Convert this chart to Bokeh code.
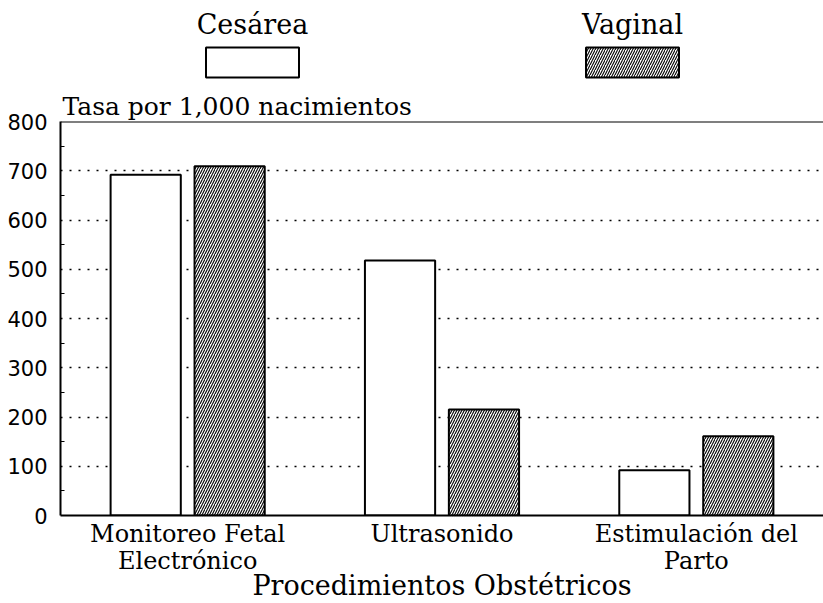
import numpy as np
from bokeh.plotting import figure
from bokeh.models import Range1d, FixedTicker, Title, Span
from bokeh.layouts import column
from bokeh.core.properties import value
from bokeh.embed import file_html
from bokeh.resources import INLINE

# ---------------- data ----------------
categories = ["Monitoreo Fetal\nElectrónico", "Ultrasonido", "Estimulación del\nParto"]
cesarea = [692, 518, 92]
vaginal = [709, 215, 161]
series_names = ["Cesárea", "Vaginal"]
y_tick_values = [0, 100, 200, 300, 400, 500, 600, 700, 800]
y_title = "Tasa por 1,000 nacimientos"
x_title = "Procedimientos Obstétricos"

# ---------------- style ----------------
W = 823
LEFT = 60
LEG_H = 89
MAIN_H = 603 - LEG_H
SERIF = "DejaVu Serif"
SANS = "DejaVu Sans"
BAR_W = 0.276
OFFSET = 0.165
HATCH = dict(hatch_pattern="/", hatch_color="black", hatch_scale=5, hatch_weight=1.1)

# ---------------- legend figure (frame aligned with the main frame: x in page pixels) ----------------
leg = figure(width=W, height=LEG_H, x_range=Range1d(LEFT, W), y_range=Range1d(LEG_H, 0),
             x_axis_location=None, y_axis_location=None,
             output_backend="svg", toolbar_location=None,
             min_border=0, min_border_left=LEFT, min_border_right=0, min_border_top=0, min_border_bottom=0)
leg.grid.visible = False
leg.outline_line_color = None
leg_x = [252, 632]
leg.text(x=leg_x, y=[24, 24], text=series_names, text_font=value(SERIF), text_font_size="27px",
         text_align="center", text_baseline="alphabetic", text_color="black")
leg.rect(x=[leg_x[0]], y=[62], width=93, height=30, fill_color="white", line_color="black", line_width=2)
leg.rect(x=[leg_x[1]], y=[62], width=93, height=30, fill_color="white", line_color="black", line_width=2, **HATCH)

# ---------------- main figure ----------------
idx = np.arange(len(categories)) + 0.5

p = figure(width=W, height=MAIN_H, x_range=Range1d(0, 3), y_range=Range1d(0, 800),
           output_backend="svg", toolbar_location=None,
           min_border_left=LEFT, min_border_right=0, min_border_top=0)
p.outline_line_color = None
p.add_layout(Title(text=y_title, align="left", text_font=SERIF, text_font_size="25px",
                   text_font_style="normal", text_color="black", standoff=1, offset=2), "above")

p.vbar(x=idx - OFFSET, top=cesarea, width=BAR_W, fill_color="white", line_color="black", line_width=2)
p.vbar(x=idx + OFFSET, top=vaginal, width=BAR_W, fill_color="white", line_color="black", line_width=2, **HATCH)

p.xgrid.visible = False
p.ygrid.grid_line_color = "black"
p.ygrid.grid_line_dash = "2 7"
p.ygrid.grid_line_width = 1.5
p.ygrid.level = "underlay"

p.yaxis.ticker = FixedTicker(ticks=y_tick_values,
                             minor_ticks=[v + 50 for v in y_tick_values[:-1]])
p.yaxis.axis_line_width = 2
p.yaxis.major_tick_in = 0
p.yaxis.major_tick_out = 0
p.yaxis.minor_tick_in = 4
p.yaxis.minor_tick_out = 0
p.yaxis.major_label_standoff = 13
p.yaxis.major_label_text_font = SANS
p.yaxis.major_label_text_font_size = "21px"
p.yaxis.major_label_text_color = "black"

p.xaxis.ticker = FixedTicker(ticks=list(idx))
p.xaxis.major_label_overrides = {float(v): c for v, c in zip(idx, categories)}
p.xaxis.axis_line_width = 2
p.xaxis.major_tick_in = 0
p.xaxis.major_tick_out = 0
p.xaxis.minor_tick_in = 0
p.xaxis.minor_tick_out = 0
p.xaxis.major_label_standoff = 4
p.xaxis.major_label_text_font = SERIF
p.xaxis.major_label_text_font_size = "24px"
p.xaxis.major_label_text_line_height = 0.98
p.xaxis.major_label_text_color = "black"
p.xaxis.axis_label = x_title
p.xaxis.axis_label_standoff = -8
p.xaxis.axis_label_text_font = SERIF
p.xaxis.axis_label_text_font_size = "27px"
p.xaxis.axis_label_text_font_style = "normal"
p.xaxis.axis_label_text_color = "black"

p.add_layout(Span(location=800, dimension="width", line_color="black", line_width=2))

layout = column(leg, p)
open("out.html", "w").write(file_html(layout, INLINE))
